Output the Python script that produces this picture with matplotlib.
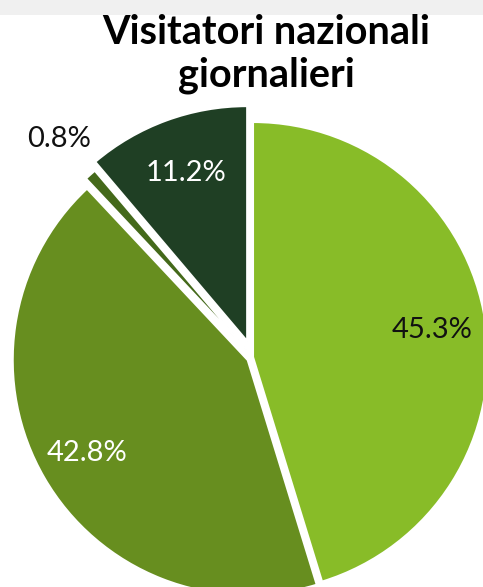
import numpy as np
import matplotlib
matplotlib.use("Agg")
import matplotlib.pyplot as plt
from matplotlib.patches import Rectangle

title = "Visitatori nazionali\ngiornalieri"
values = [45.3, 42.8, 0.8, 11.2]
labels = ["45.3%", "42.8%", "0.8%", "11.2%"]
colors = ["#88BC28", "#678E1F", "#44691A", "#1F3F24"]
label_colors = ["#111111", "#FFFFFF", "#111111", "#FFFFFF"]
explode = [0.0, 0.026, 0.04, 0.072]
label_dist = [0.77, 0.79, 1.2, 0.76]

W, H = 483, 587
R = 235.0
cx, cy = 253.0, 357.0  # pixel position of the pie centre (from top-left)

fig = plt.figure(figsize=(W / 100, H / 100), dpi=100)
fig.patch.set_facecolor("white")
fig.add_artist(Rectangle((0, 1 - 15 / H), 1, 15 / H, transform=fig.transFigure,
                         facecolor="#F0F0F0", edgecolor="none", zorder=0))

ax = fig.add_axes([0, 0, 1, 1])
ax.set_facecolor("none")
wedges, _ = ax.pie(values, colors=colors, explode=explode, startangle=90,
                   counterclock=False, radius=1.0,
                   wedgeprops=dict(edgecolor="white", linewidth=1.5))
ax.set_aspect("auto")
ax.set_xlim(-cx / R, (W - cx) / R)
ax.set_ylim(-(H - cy) / R, cy / R)
ax.axis("off")

for w, lab, col, d in zip(wedges, labels, label_colors, label_dist):
    th = np.deg2rad((w.theta1 + w.theta2) / 2)
    x0, y0 = w.center
    ax.text(x0 + d * w.r * np.cos(th), y0 + d * w.r * np.sin(th), lab,
            ha="center", va="center", color=col, fontsize=21, family="Lato")

fig.text(0.551, 1 - 54 / H, title, ha="center", va="center", fontsize=28.5,
         fontweight="bold", family="Lato", linespacing=1.2, color="black",
         zorder=5)

fig.savefig("out.png", dpi=100)
